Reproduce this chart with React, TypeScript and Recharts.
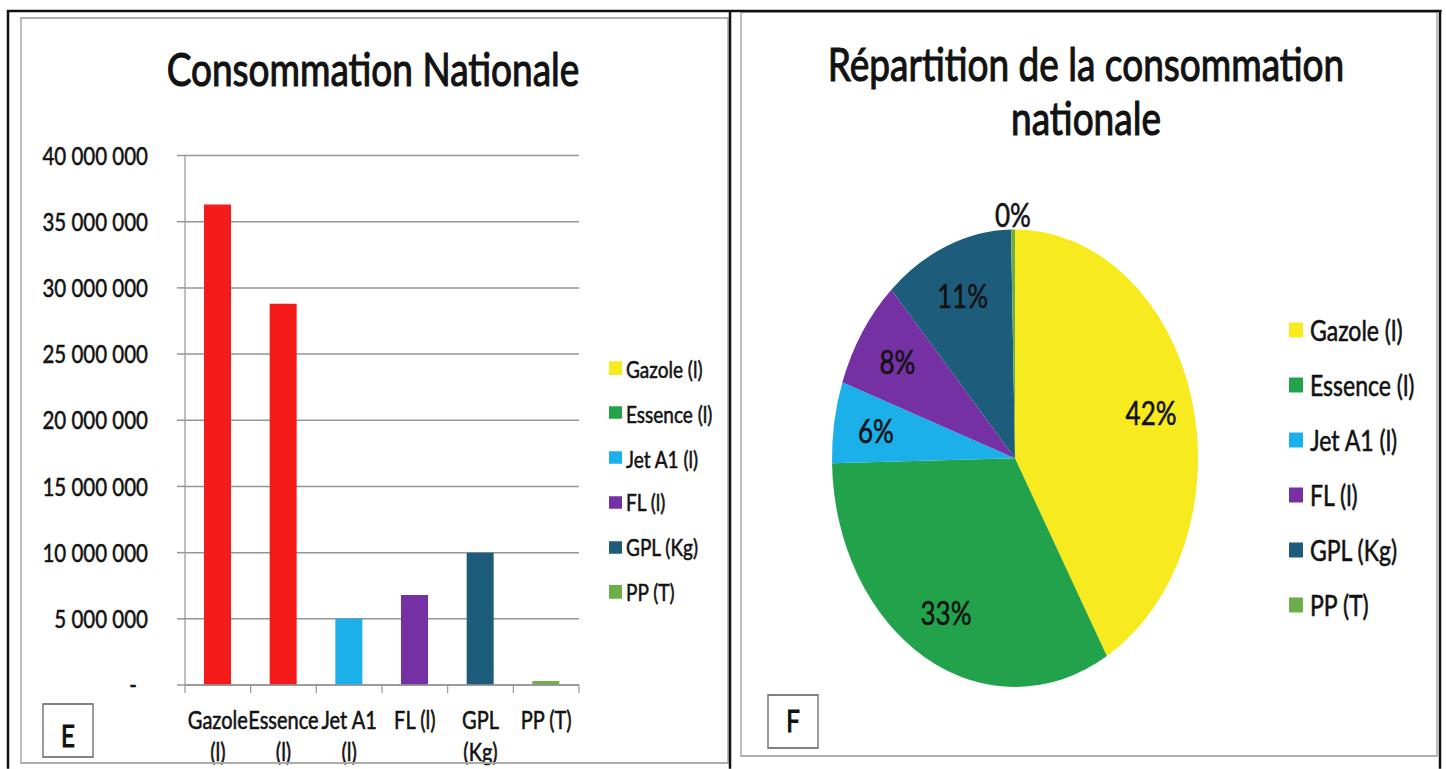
import React from "react";
import { BarChart, Bar, XAxis, YAxis, CartesianGrid, Cell, PieChart, Pie } from "recharts";

// data
const CATEGORIES = ["Gazole (l)", "Essence (l)", "Jet A1 (l)", "FL (l)", "GPL (Kg)", "PP (T)"];
const AXIS_LABELS = [["Gazole", "(l)"], ["Essence", "(l)"], ["Jet A1", "(l)"], ["FL (l)"], ["GPL", "(Kg)"], ["PP (T)"]];
const CONSUMPTION = [36300000, 28800000, 5000000, 6800000, 10000000, 300000];
const Y_TICKS = [0, 5000000, 10000000, 15000000, 20000000, 25000000, 30000000, 35000000, 40000000];
const BAR_COLORS = ["#f61b1b", "#f61b1b", "#1cb0ea", "#7530a4", "#1e5c7c", "#6cae48"];
const SERIES_COLORS = ["#f7ea1f", "#22a24b", "#1cb0ea", "#7530a4", "#1e5c7c", "#6cae48"];
const BAR_TITLE = "Consommation Nationale";
const PIE_TITLE = ["Répartition de la consommation", "nationale"];

// the source picture is stretched vertically, so everything is laid out flat and scaled
const SY = 1.25;
const W = 1446;
const H = 769 / SY;
const GRID = "#969696";
const INK = "#121212";
const FONT = "Lato, 'Open Sans', sans-serif";

const PLOT_LEFT = 185;
const PLOT_RIGHT = 579;
const BAND = (PLOT_RIGHT - PLOT_LEFT) / CATEGORIES.length;

const barData = CATEGORIES.map((name, i) => ({ name, value: CONSUMPTION[i] }));
const pieData = CATEGORIES.map((name, i) => ({ name, value: CONSUMPTION[i] }));

const fmt = (v: number) => String(v).replace(/\B(?=(\d{3})+(?!\d))/g, " ");
const heavy = { stroke: INK, strokeWidth: 0.45 };

function XTick(props: any) {
  const { x, y, index } = props;
  const lines = AXIS_LABELS[index] ?? [String(props.payload?.value ?? "")];
  const half = BAND / 2;
  return (
    <g>
      <line x1={x - half} x2={x - half} y1={y} y2={y + 6.4} stroke={GRID} strokeWidth={1.2} />
      {index === CATEGORIES.length - 1 && (
        <line x1={x + half} x2={x + half} y1={y} y2={y + 6.4} stroke={GRID} strokeWidth={1.2} />
      )}
      <text x={x} y={y + 35.5} textAnchor="middle" fontSize={20} fill={INK} {...heavy}>
        {lines.map((l, k) => (
          <tspan key={k} x={x} dy={k === 0 ? 0 : 25.5}>{l}</tspan>
        ))}
      </text>
    </g>
  );
}

function YTick(props: any) {
  const { x, y, payload } = props;
  const v = payload.value;
  return (
    <text x={v === 0 ? x - 11 : x} y={y} dy="0.36em" textAnchor="end" fontSize={20.5} fill={INK} {...heavy}>
      {v === 0 ? "-" : fmt(v)}
    </text>
  );
}

const RAD = Math.PI / 180;
function pieLabel(p: any) {
  const { cx, cy, midAngle, outerRadius, percent } = p;
  const r = percent < 0.01 ? outerRadius + 12 : outerRadius * 0.77;
  const x = cx + r * Math.cos(-midAngle * RAD);
  const y = cy + r * Math.sin(-midAngle * RAD);
  return (
    <text x={x} y={y} textAnchor="middle" dominantBaseline="central" fontSize={26} fill={INK} {...heavy}>
      {Math.round(percent * 100)}%
    </text>
  );
}

function LegendList({ left, top, step, box, fontSize, gap }: { left: number; top: number; step: number; box: number; fontSize: number; gap: number }) {
  return (
    <>
      {CATEGORIES.map((c, i) => (
        <div key={c} style={{ position: "absolute", left, top: top + i * step - 14, height: 28, display: "flex", alignItems: "center", fontSize, color: INK, whiteSpace: "nowrap", WebkitTextStroke: "0.45px #121212" }}>
          <span style={{ width: box, height: box / SY, background: SERIES_COLORS[i], marginRight: gap, display: "inline-block" }} />
          {c}
        </div>
      ))}
    </>
  );
}

export default function App() {
  return (
    <div style={{ position: "absolute", left: 0, top: 0, width: W, height: 769, background: "#fff", overflow: "hidden" }}>
      <div style={{ position: "absolute", left: 0, top: 0, width: W, height: H, transform: `scaleY(${SY})`, transformOrigin: "0 0", fontFamily: FONT }}>
        <div style={{ position: "absolute", left: 0, top: 0 }}>
          <BarChart width={730} height={625} data={barData} margin={{ top: 124.4, right: 730 - PLOT_RIGHT, bottom: 17, left: 0 }} barSize={27}>
            <CartesianGrid vertical={false} stroke={GRID} strokeWidth={1.2} />
            <XAxis dataKey="name" height={60} interval={0} tickSize={0} tickMargin={0} tickLine={false}
              axisLine={{ stroke: GRID, strokeWidth: 1.2 }} tick={<XTick />} />
            <YAxis width={PLOT_LEFT} domain={[0, 40000000]} ticks={Y_TICKS} interval={0} tickSize={8} tickMargin={29}
              axisLine={{ stroke: GRID, strokeWidth: 1.2 }} tickLine={{ stroke: GRID, strokeWidth: 1.2 }} tick={<YTick />} />
            <Bar dataKey="value" isAnimationActive={false}>
              {barData.map((d, i) => <Cell key={d.name} fill={BAR_COLORS[i]} />)}
            </Bar>
          </BarChart>
        </div>
        <LegendList left={609} top={294.4} step={35.84} box={13} fontSize={19} gap={4} />

        <div style={{ position: "absolute", left: 730, top: 0 }}>
          <PieChart width={716} height={615}>
            <Pie data={pieData} dataKey="value" nameKey="name" cx={280} cy={361.6} outerRadius={183}
              startAngle={90} endAngle={-270} stroke="none" label={pieLabel} labelLine={false} isAnimationActive={false}>
              {pieData.map((d, i) => <Cell key={d.name} fill={SERIES_COLORS[i]} />)}
            </Pie>
          </PieChart>
        </div>
        <LegendList left={1289} top={264} step={44} box={14} fontSize={23} gap={7} />

        <svg width={W} height={H} style={{ position: "absolute", left: 0, top: 0, pointerEvents: "none" }}>
          <rect x={21} y={14.4} width={707} height={596} fill="none" stroke="#a8a8a8" strokeWidth={1.5} />
          <rect x={741} y={9.6} width={696} height={595.2} fill="none" stroke="#a8a8a8" strokeWidth={1.5} />
          <line x1={7} x2={1441.5} y1={8.8} y2={8.8} stroke="#111" strokeWidth={2} />
          <line x1={8} x2={8} y1={8} y2={H} stroke="#111" strokeWidth={2.5} />
          <line x1={730} x2={730} y1={8} y2={H} stroke="#111" strokeWidth={2.5} />
          <line x1={1440} x2={1440} y1={8} y2={H} stroke="#111" strokeWidth={2.5} />

          <g fill={INK} stroke={INK} strokeWidth={0.9} fontSize={37} textAnchor="middle">
            <text x={373} y={69}>{BAR_TITLE}</text>
            <text x={1086} y={65}>{PIE_TITLE[0]}</text>
            <text x={1086} y={108}>{PIE_TITLE[1]}</text>
          </g>

          <rect x={43} y={563.2} width={50} height={42.4} fill="#fff" stroke="#7a7a7a" strokeWidth={1.5} />
          <rect x={768} y={556} width={50} height={42.4} fill="#fff" stroke="#7a7a7a" strokeWidth={1.5} />
          <g fill={INK} stroke={INK} strokeWidth={0.9} fontSize={24} textAnchor="middle">
            <text x={68} y={597.5}>E</text>
            <text x={793} y={586}>F</text>
          </g>
        </svg>
      </div>
    </div>
  );
}
